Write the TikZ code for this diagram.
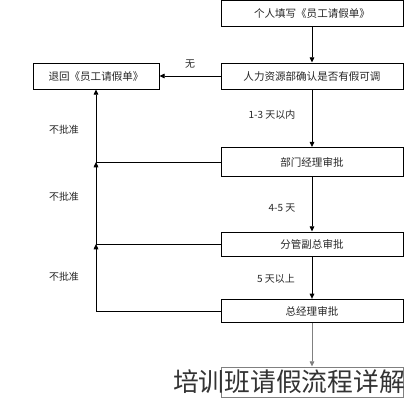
\documentclass[tikz,border=0pt]{standalone}
\usepackage{fontspec}
\setmainfont{Noto Sans CJK SC}
\usetikzlibrary{arrows.meta}
\tikzset{
  stepbox/.style={draw, line width=0.8pt, minimum width=5.46cm, minimum height=0.78cm,
    inner sep=1pt, text=black!85, font=\fontsize{9}{10}\selectfont},
  flow/.style={-{Triangle[length=4.5pt,width=4pt]}, line width=0.8pt},
  lbl/.style={text=black!85, font=\fontsize{8.5}{10}\selectfont},
}
\begin{document}
\begin{tikzpicture}[x=0.03cm,y=-0.03cm]
    \useasboundingbox (0,0) rectangle (407,400);
    %% main column
    \node[stepbox] (fill) at (312,13) {个人填写《员工请假单》};
    \node[stepbox] (hr) at (312,76) {人力资源部确认是否有假可调};
    \node[stepbox,minimum height=0.87cm] (dept) at (312,162) {部门经理审批};
    \node[stepbox,minimum height=0.72cm] (vice) at (312,244) {分管副总审批};
    \node[stepbox,minimum height=0.7cm] (gm) at (312,311) {总经理审批};
    \node[stepbox,draw=gray,minimum height=0.9cm] (end) at (312,382) {};
    %% return box
    \node[stepbox,minimum width=3.78cm] (back) at (96,76) {退回《员工请假单》};
    %% approval arrows
    \draw[flow] (fill) -- (hr);
    \draw[flow] (hr) -- (dept);
    \draw[flow] (dept) -- (vice);
    \draw[flow] (vice) -- (gm);
    \draw[flow,gray] (gm) -- (end);
    \node[lbl] (d13) at (272,115) {1-3 天以内};
    \node[lbl] (d45) at (282,208) {4-5 天};
    \node[lbl] (d5) at (276,279) {5 天以上};
    %% none left
    \draw[flow] (hr) -- (back) node[lbl,midway,above=3pt] {无};
    %% rejections
    \coordinate (jv) at (back.south |- vice.west);
    \coordinate (jd) at (back.south |- dept.west);
    \draw[flow] (gm.west) -| (jv);
    \draw[flow] (vice.west) -| (jd);
    \draw[flow] (dept.west) -| (back.south);
    \foreach \y/\n in {130/r1,197/r2,277/r3}
        \node[lbl] (\n) at (64,\y) {不批准};
    %% caption
    \node[text=black!80, font=\fontsize{22}{24}\selectfont, inner sep=0pt] (title) at (289,382) {培训班请假流程详解};
\end{tikzpicture}
\end{document}
